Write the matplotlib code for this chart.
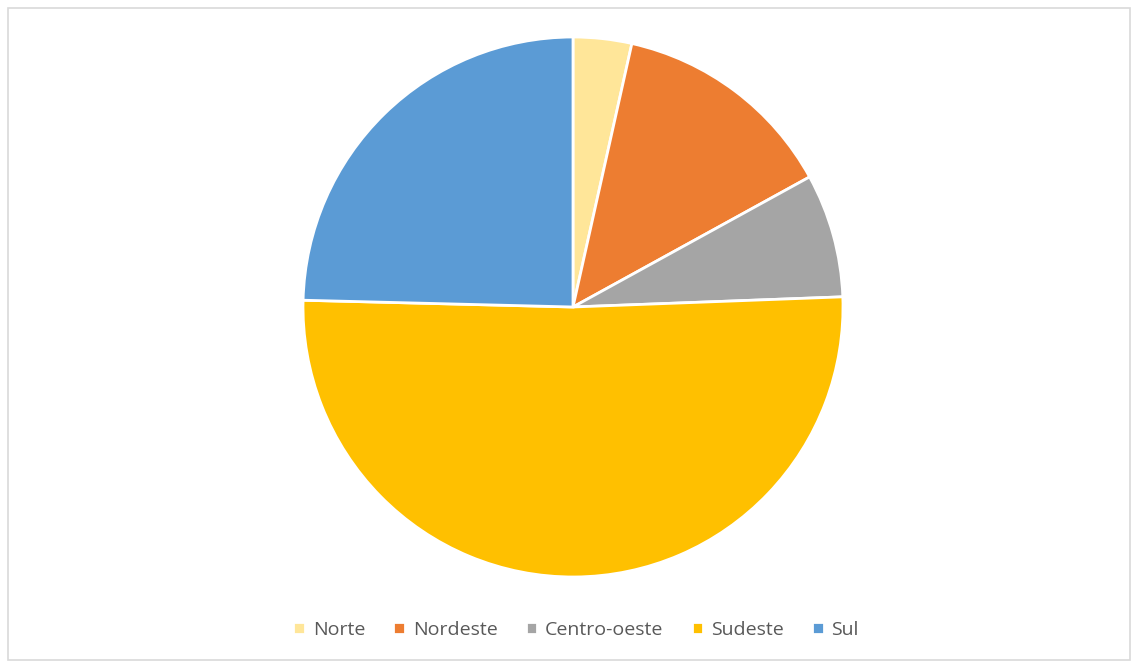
import matplotlib.pyplot as plt
from matplotlib.patches import Rectangle

regioes = ['Norte', 'Nordeste', 'Centro-oeste', 'Sudeste', 'Sul']
valores = [3.5, 13.5, 7.4, 51.0, 24.6]
cores = ['#FFE699', '#ED7D31', '#A5A5A5', '#FFC000', '#5B9BD5']

fig = plt.figure(figsize=(11.32, 6.63), dpi=100)
fig.patches.append(Rectangle((8/1132, 3/663), 1122/1132, 652/663, transform=fig.transFigure,
                             fill=False, edgecolor='#D9D9D9', linewidth=1.2))

# pie centred at about (573, 307) px, radius 270 px
ax = fig.add_axes([303/1132, 1 - 577/663, 540/1132, 540/663])
wedges, _ = ax.pie(valores, colors=cores, startangle=90, counterclock=False,
                   wedgeprops=dict(edgecolor='white', linewidth=2))
ax.set_xlim(-1, 1)
ax.set_ylim(-1, 1)
ax.set_aspect('equal')

leg = fig.legend(wedges, regioes, loc='center', bbox_to_anchor=(576/1132, 1 - 630/663),
                 ncol=5, frameon=False, handlelength=0.6, handleheight=0.6,
                 handletextpad=0.4, columnspacing=1.45,
                 prop={'family': 'Open Sans', 'size': 14})
for t in leg.get_texts():
    t.set_color('#595959')

fig.savefig('out.png', dpi=100)
